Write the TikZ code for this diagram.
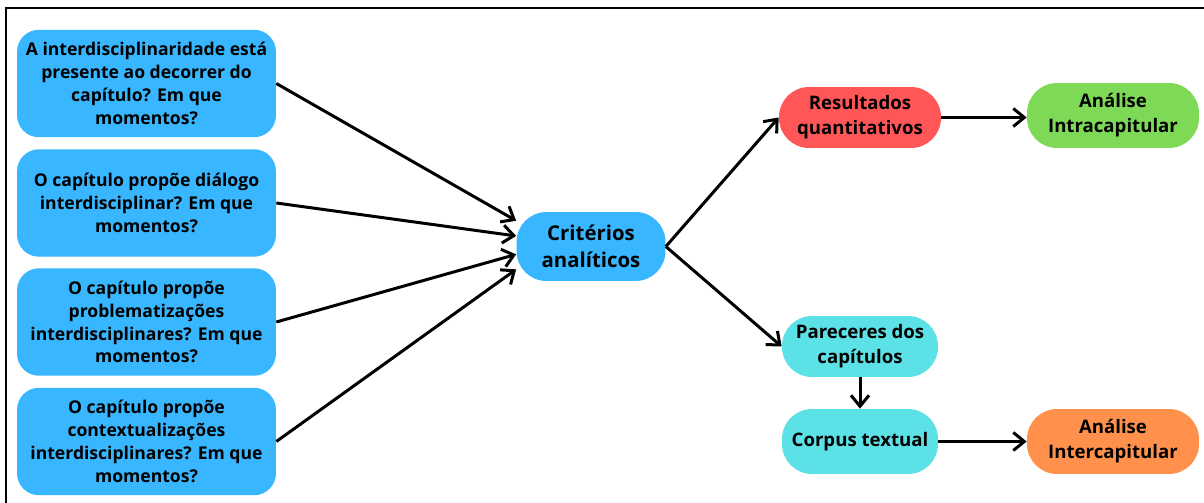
\documentclass[tikz,border=0pt]{standalone}
\usepackage{fontspec}
\setmainfont{Open Sans}
\usetikzlibrary{arrows.meta}
\definecolor{qblue}{HTML}{38B6FF}
\definecolor{qred}{HTML}{FF5757}
\definecolor{qgreen}{HTML}{7ED957}
\definecolor{qcyan}{HTML}{5CE1E6}
\definecolor{qorange}{HTML}{FF914D}
\tikzset{qbox/.style = {fill=qblue, rectangle, rounded corners=0.44cm, align=center, inner sep=0pt,
                        minimum width=5.18cm, minimum height=2.15cm,
                        font=\bfseries\fontsize{10}{13}\selectfont},
         pill/.style = {rectangle, rounded corners=0.6cm, align=center, inner sep=0pt,
                        minimum width=3.2cm, minimum height=1.25cm,
                        font=\bfseries\fontsize{10.6}{14.2}\selectfont},
         arr/.style = {-{Straight Barb[length=2.2mm,width=3.6mm]}, line width=1.7pt}}

\begin{document}
\begin{tikzpicture}[x=0.02cm,y=-0.02cm]
        \useasboundingbox(0,0)rectangle(1204,503);
        \draw[line width=1.7pt](6,520)--(6,8)--(1220,8);
        % questions
        \node[qbox](q1)at(146.5,83.5){A interdisciplinaridade está\\presente ao decorrer do\\capítulo? Em que\\momentos?};
        \node[qbox](q2)at(146.5,203){O capítulo propõe diálogo\\interdisciplinar? Em que\\momentos?};
        \node[qbox](q3)at(146.5,322){O capítulo propõe\\problematizações\\interdisciplinares? Em que\\momentos?};
        \node[qbox](q4)at(146.5,441.5){O capítulo propõe\\contextualizações\\interdisciplinares? Em que\\momentos?};
        % centre
        \node[pill,fill=qblue,minimum width=2.98cm,minimum height=1.38cm,rounded corners=0.6cm,
              font=\bfseries\fontsize{11.6}{15.5}\selectfont](crit)at(591,246.5){Critérios\\analíticos};
        % right side
        \node[pill,fill=qred,minimum width=3.24cm,minimum height=1.22cm](res)at(860,117.5){Resultados\\quantitativos};
        \node[pill,fill=qgreen,minimum width=3.44cm,minimum height=1.3cm](intra)at(1113,115.5){Análise\\Intracapitular};
        \node[pill,fill=qcyan,minimum width=3.12cm,minimum height=1.22cm](par)at(860,346.5){Pareceres dos\\capítulos};
        \node[pill,fill=qcyan,minimum width=3.12cm,minimum height=1.3cm](corp)at(860,441.5){Corpus textual};
        \node[pill,fill=qorange,minimum width=3.44cm,minimum height=1.3cm](inter)at(1113,441.5){Análise\\Intercapitular};
        % connectors
        \draw[arr](q1.east)--(crit.161);
        \draw[arr](q2.east)--(crit.172);
        \draw[arr](q3.east)--(crit.186);
        \draw[arr](q4.east)--(crit.197);
        \draw[arr](crit.east)--(res.west);
        \draw[arr](crit.east)--(par.west);
        \draw[arr](res.east)--(res.east-|intra.west);
        \draw[arr](par.south)--(corp.north);
        \draw[arr](corp.east)--(inter.west);
\end{tikzpicture}
\end{document}
